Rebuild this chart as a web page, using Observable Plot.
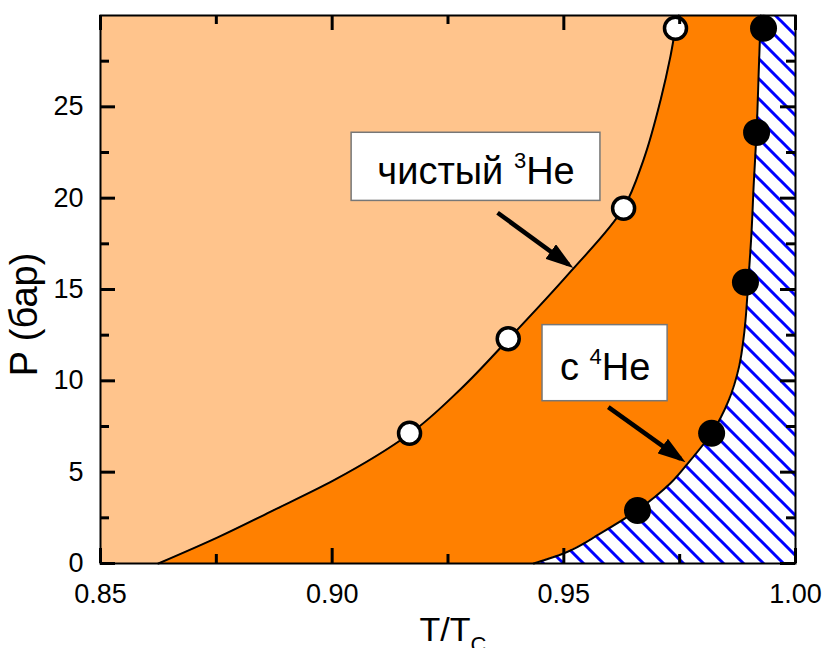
<!DOCTYPE html>
<html>
<head>
<meta charset="utf-8">
<script src="https://cdn.jsdelivr.net/npm/d3@7"></script>
<script src="https://cdn.jsdelivr.net/npm/@observablehq/plot@0.6"></script>
<style>
  html, body { margin: 0; padding: 0; background: white; }
</style>
</head>
<body>
<div id="chart"></div>
<script>
// Boundary of pure 3He (T/Tc, P in bar)
const he3CurveT = [0.8625, 0.8753, 0.8873, 0.9003, 0.9169, 0.9277, 0.9381, 0.9514, 0.9629, 0.9672, 0.9709, 0.9730, 0.9741, 0.9748];
const he3CurveP = [0, 1.43, 2.91, 4.55, 7.13, 9.54, 12.29, 15.96, 19.47, 22.10, 25.39, 27.75, 29.23, 30];
// Boundary with 4He
const he4CurveT = [0.9435, 0.9499, 0.9579, 0.9661, 0.9730, 0.9773, 0.9819, 0.9856, 0.9878, 0.9890, 0.9898, 0.9905, 0.9910, 0.9916, 0.9921, 0.9925];
const he4CurveP = [0, 0.55, 1.65, 2.96, 4.39, 5.65, 7.13, 8.94, 10.75, 12.78, 15.41, 18.10, 20.84, 23.64, 27.20, 30];
// Measured points
const he3PointsT = [0.9167, 0.9380, 0.9629, 0.9741];
const he3PointsP = [7.13, 12.3, 19.45, 29.3];
const he4PointsT = [0.9659, 0.9819, 0.9892, 0.9916, 0.9931];
const he4PointsP = [2.9, 7.13, 15.4, 23.6, 29.3];
// Label boxes
const boxPre = ["чистый ", "c "];
const boxSup = ["3", "4"];
const boxPost = ["He", "He"];
const boxX1 = [0.9042, 0.9454];
const boxX2 = [0.9579, 0.9724];
const boxY1 = [19.85, 8.885];
const boxY2 = [23.58, 13.05];
// Arrows (tail -> shaft end)
const arrowX1 = [0.9357, 0.9596];
const arrowY1 = [19.2, 8.56];
const arrowX2 = [0.9510, 0.9752];
const arrowY2 = [16.37, 5.73];
// Ticks
const xTicks = [0.85, 0.90, 0.95, 1.00];
const xMinor = [0.875, 0.925, 0.975];
const yTicks = [0, 5, 10, 15, 20, 25];
const yMinor = [2.5, 7.5, 12.5, 17.5, 22.5, 27.5];
const xDomain = [0.85, 1.00];
const yDomain = [0, 30];

const curve3 = he3CurveT.map((t, i) => ({t, p: he3CurveP[i]}));
const curve4 = he4CurveT.map((t, i) => ({t, p: he4CurveP[i]}));
const pts3 = he3PointsT.map((t, i) => ({t, p: he3PointsP[i]}));
const pts4 = he4PointsT.map((t, i) => ({t, p: he4PointsP[i]}));
const boxes = boxPre.map((pre, i) => ({pre, sup: boxSup[i], post: boxPost[i], x1: boxX1[i], x2: boxX2[i], y1: boxY1[i], y2: boxY2[i]}));
const arrows = arrowX1.map((x1, i) => ({x1, y1: arrowY1[i], x2: arrowX2[i], y2: arrowY2[i]}));

const LIGHT = "#FFC48C";
const DARK = "#FF8000";
const W = 825, H = 648, ML = 100, MR = 30, MT = 15, MB = 85;
const FW = W - ML - MR, FH = H - MT - MB;
const MAJ = 15, MIN = 9;
const CURVE = "monotone-y";
const tk = {stroke: "black", strokeWidth: 3};

const chart = Plot.plot({
  width: W,
  height: H,
  marginLeft: ML,
  marginRight: MR,
  marginTop: MT,
  marginBottom: MB,
  x: {domain: xDomain},
  y: {domain: yDomain},
  style: {fontFamily: "'Liberation Sans', Arial, sans-serif"},
  marks: [
    Plot.frame({fill: LIGHT, stroke: null}),
    Plot.areaX(curve3, {y: "p", x1: "t", x2: xDomain[1], fill: DARK, curve: CURVE}),
    Plot.areaX(curve4, {y: "p", x1: "t", x2: xDomain[1], fill: "url(#hatch)", curve: CURVE}),
    Plot.line(curve3, {x: "t", y: "p", stroke: "black", strokeWidth: 2, curve: CURVE}),
    Plot.line(curve4, {x: "t", y: "p", stroke: "black", strokeWidth: 2, curve: CURVE}),
    Plot.link(arrows, {x1: "x1", y1: "y1", x2: "x2", y2: "y2", stroke: "black", strokeWidth: 4.5, className: "arrows"}),
    Plot.rect(boxes, {x1: "x1", x2: "x2", y1: "y1", y2: "y2", fill: "white", stroke: "#777", strokeWidth: 1.5}),
    Plot.text(boxes, {x: d => (d.x1 + d.x2) / 2, y: d => (d.y1 + d.y2) / 2, text: d => d.pre + d.sup + d.post, fontSize: 38, dy: 5, fill: "black", className: "boxlab"}),
    Plot.dot(pts3, {x: "t", y: "p", r: 11, fill: "white", stroke: "black", strokeWidth: 3.5}),
    Plot.dot(pts4, {x: "t", y: "p", r: 13.5, fill: "black", stroke: "none"}),
    // inward ticks on all four sides
    Plot.ruleX(xTicks, {insetTop: FH - MAJ, ...tk}),
    Plot.ruleX(xMinor, {insetTop: FH - MIN, ...tk}),
    Plot.ruleX(xTicks, {insetBottom: FH - MAJ, ...tk}),
    Plot.ruleX(xMinor, {insetBottom: FH - MIN, ...tk}),
    Plot.ruleY(yTicks, {insetRight: FW - MAJ, ...tk}),
    Plot.ruleY(yMinor, {insetRight: FW - MIN, ...tk}),
    Plot.ruleY(yTicks, {insetLeft: FW - MAJ, ...tk}),
    Plot.ruleY(yMinor, {insetLeft: FW - MIN, ...tk}),
    // tick labels
    Plot.axisX(xTicks, {anchor: "bottom", tickSize: 0, tickPadding: 20, tickFormat: d3.format(".2f"), fontSize: 27, fill: "black", label: null}),
    Plot.axisY(yTicks, {anchor: "left", tickSize: 0, tickPadding: 17, fontSize: 27, fill: "black", label: null}),
    Plot.frame({stroke: "black", strokeWidth: 2}),
    // axis titles
    Plot.text(["P (бар)"], {frameAnchor: "left", rotate: -90, dx: -64, dy: 25, fontSize: 38, lineAnchor: "bottom", textAnchor: "middle", fill: "black"}),
    Plot.text(["T/TC"], {frameAnchor: "bottom", dx: 5, dy: 77, fontSize: 34, lineAnchor: "bottom", textAnchor: "middle", fill: "black", className: "xlab"})
  ]
});

const svg = d3.select(chart);
const defs = svg.append("defs");
const pat = defs.append("pattern").attr("id", "hatch").attr("patternUnits", "userSpaceOnUse").attr("width", 20).attr("height", 20);
pat.append("rect").attr("width", 20).attr("height", 20).attr("fill", "white");
pat.append("path").attr("d", "M-5,-5L25,25M-5,15L5,25M15,-5L25,5").attr("stroke", "#0000ff").attr("stroke-width", 3).attr("fill", "none");
defs.append("marker").attr("id", "ah").attr("markerUnits", "userSpaceOnUse")
  .attr("viewBox", "0 0 28 18").attr("markerWidth", 28).attr("markerHeight", 18)
  .attr("refX", 22).attr("refY", 9).attr("orient", "auto")
  .append("path").attr("d", "M0,0L28,9L0,18Z").attr("fill", "black");
svg.selectAll(".arrows path").attr("marker-end", "url(#ah)");

svg.selectAll(".boxlab text").each(function(d, i) {
  const t = d3.select(this);
  const b = boxes[i];
  t.text(null);
  t.append("tspan").text(b.pre);
  t.append("tspan").attr("font-size", 22).attr("dy", -16).text(b.sup);
  t.append("tspan").attr("dy", 16).text(b.post);
});
svg.selectAll(".xlab text").each(function() {
  const t = d3.select(this);
  t.text(null);
  t.append("tspan").text("T/T");
  t.append("tspan").attr("font-size", 22).attr("dy", 11).text("C");
});

document.getElementById("chart").appendChild(chart);
</script>
</body>
</html>
